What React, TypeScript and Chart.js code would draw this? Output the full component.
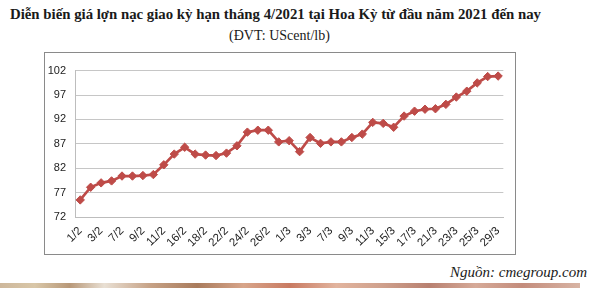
import React, { useEffect, useRef } from "react";
import { Chart, registerables } from "chart.js";

Chart.register(...registerables);

const categories: string[] = [
  "1/2", "2/2", "3/2", "5/2", "7/2", "8/2", "9/2", "10/2", "11/2", "12/2",
  "16/2", "17/2", "18/2", "19/2", "22/2", "23/2", "24/2", "25/2", "26/2", "28/2",
  "1/3", "2/3", "3/3", "5/3", "7/3", "8/3", "9/3", "10/3", "11/3", "12/3",
  "15/3", "16/3", "17/3", "18/3", "21/3", "22/3", "23/3", "24/3", "25/3", "26/3",
  "29/3",
];

const prices: number[] = [
  75.5, 78.1, 79.0, 79.4, 80.4, 80.4, 80.5, 80.7, 82.7, 84.9,
  86.3, 84.9, 84.7, 84.6, 85.1, 86.6, 89.4, 89.8, 89.8, 87.4,
  87.65, 85.4, 88.3, 87.1, 87.4, 87.4, 88.3, 89.0, 91.4, 91.2,
  90.4, 92.7, 93.7, 94.1, 94.2, 95.1, 96.6, 97.8, 99.5, 100.8,
  100.9,
];

const yMin = 72;
const yMax = 102;
const yStep = 5;

const title = "Diễn biến giá lợn nạc giao kỳ hạn tháng 4/2021 tại Hoa Kỳ từ đầu năm 2021 đến nay";
const subtitle = "(ĐVT: UScent/lb)";
const source = "Nguồn: cmegroup.com";

function LineChart() {
  const ref = useRef<HTMLCanvasElement | null>(null);
  useEffect(() => {
    if (!ref.current) return;
    const chart = new Chart(ref.current, {
      type: "line",
      data: {
        labels: categories,
        datasets: [
          {
            data: prices,
            borderColor: "#BE4B48",
            backgroundColor: "#BE4B48",
            borderWidth: 2.7,
            pointStyle: "rectRot",
            pointRadius: 4.2,
            pointBorderWidth: 1,
            tension: 0,
          },
        ],
      },
      options: {
        animation: false,
        responsive: false,
        maintainAspectRatio: false,
        layout: { padding: { top: 17.7, right: 10, left: 0, bottom: 0 } },
        plugins: { legend: { display: false }, tooltip: { enabled: false }, title: { display: false } },
        scales: {
          x: {
            type: "category",
            offset: true,
            grid: { display: false, drawTicks: false },
            border: { display: true, color: "#bdbdbd", width: 1 },
            ticks: {
              autoSkip: false,
              maxRotation: 45,
              minRotation: 45,
              padding: 7,
              color: "#222",
              font: { family: "'Liberation Sans', Arial, sans-serif", size: 11.5 },
              callback: (_v: any, i: number) => (i % 2 === 0 ? categories[i] : ""),
            },
            afterFit: (s: any) => {
              s.height = 37;
            },
          },
          y: {
            min: yMin,
            max: yMax,
            grid: { color: "#c6c6c6", lineWidth: 1, drawTicks: false },
            border: { display: true, color: "#bdbdbd", width: 1 },
            ticks: {
              stepSize: yStep,
              padding: 9,
              color: "#222",
              font: { family: "'Liberation Sans', Arial, sans-serif", size: 11 },
            },
            afterFit: (s: any) => {
              s.width = 30;
            },
          },
        },
      },
    });
    return () => chart.destroy();
  }, []);
  return <canvas ref={ref} width={470} height={201} style={{ display: "block", width: 470, height: 201 }} />;
}

export default function App() {
  return (
    <div style={{ position: "absolute", left: 0, top: 0, width: 600, height: 288, background: "#fff", overflow: "hidden" }}>
      <div
        style={{
          position: "absolute",
          left: 10,
          top: 6.6,
          whiteSpace: "nowrap",
          fontFamily: "'Liberation Serif', 'DejaVu Serif', serif",
          fontWeight: "bold",
          fontSize: 14.8,
          lineHeight: "15px",
          color: "#1a1a1a",
        }}
      >
        {title}
      </div>
      <div
        style={{
          position: "absolute",
          left: 0,
          width: 559,
          textAlign: "center",
          top: 28.8,
          whiteSpace: "nowrap",
          fontFamily: "'Liberation Serif', 'DejaVu Serif', serif",
          fontSize: 14,
          lineHeight: "14px",
          color: "#1a1a1a",
        }}
      >
        {subtitle}
      </div>
      <div
        style={{
          position: "absolute",
          left: 44,
          top: 52,
          width: 470,
          height: 201,
          border: "1px solid #8a8a8a",
          background: "#fff",
        }}
      >
        <LineChart />
      </div>
      <div
        style={{
          position: "absolute",
          right: 13,
          top: 265.4,
          whiteSpace: "nowrap",
          fontFamily: "'Liberation Serif', 'DejaVu Serif', serif",
          fontStyle: "italic",
          fontSize: 15,
          lineHeight: "15px",
          color: "#1a1a1a",
        }}
      >
        {source}
      </div>
      <div
        style={{
          position: "absolute",
          left: 0,
          top: 283,
          width: 580,
          height: 5,
          background:
            "linear-gradient(90deg, #cdb79b 0%, #d9c7a8 6%, #b89878 12%, #e9e0d4 18%, #c6a185 26%, #a97b5c 34%, #d8a58a 42%, #c97a62 50%, #e2b49e 58%, #cfa08c 66%, #b88070 74%, #d6aa98 82%, #c48c7c 90%, #d8b4a4 100%)",
        }}
      />
    </div>
  );
}
